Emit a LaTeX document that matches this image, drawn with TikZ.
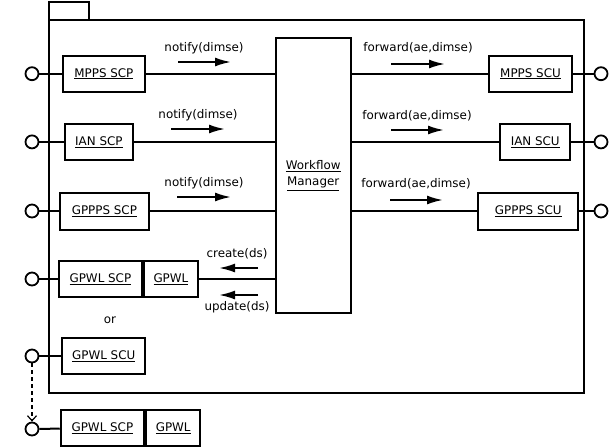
\documentclass[tikz,border=0pt]{standalone}
\usepackage{fontspec}
\setmainfont{DejaVu Sans}
\usetikzlibrary{arrows.meta}
\begin{document}
\begin{tikzpicture}[x=1pt,y=-1pt,
  every node/.style={font=\fontsize{11.9}{14}\selectfont, inner sep=0pt},
  comp/.style={draw, line width=2pt, minimum height=36pt},
  port/.style={draw, line width=1.8pt, circle, minimum size=13pt},
  wire/.style={line width=2pt},
  msg/.style={line width=2pt, -{Latex[length=16pt,width=9pt]}}]
\useasboundingbox (0,0) rectangle (609,447);

% package frame with its tab
\draw[line width=2pt] (49,20) rectangle (584,393);
\draw[line width=2pt] (49,20) -- (49,1.5) -- (89,1.5) -- (89,20);

% central component
\node[comp, minimum width=75pt, minimum height=275.5pt, align=center] (wm) at (313.2,175.3)
  {\underline{Workflow}\\[2.5pt]\underline{Manager}};

% left side components
\node[comp, minimum width=82.3pt] (mppsscp) at (103.9,73.7) {\underline{MPPS SCP}};
\node[comp, minimum width=68.3pt] (ianscp) at (98.9,141.9) {\underline{IAN SCP}};
\node[comp, minimum width=88.7pt, minimum height=37pt] (gpppsscp) at (104.4,211) {\underline{GPPPS SCP}};
\node[comp, minimum width=82.7pt] (gpwlscp) at (100.4,279) {\underline{GPWL SCP}};
\node[comp, minimum width=54.3pt, anchor=west] (gpwl) at (gpwlscp.east) {\underline{GPWL}};
\node (or) at (110,320) {or};
\node[comp, minimum width=83.3pt] (gpwlscu) at (103.7,356) {\underline{GPWL SCU}};
\node[comp, minimum width=83.3pt] (gpwlscpb) at (102.4,428) {\underline{GPWL SCP}};
\node[comp, minimum width=54.3pt, anchor=west] (gpwlb) at (gpwlscpb.east) {\underline{GPWL}};

% right side components
\node[comp, minimum width=83pt] (mppsscu) at (530.5,73.7) {\underline{MPPS SCU}};
\node[comp, minimum width=69.7pt] (ianscu) at (535.2,141.9) {\underline{IAN SCU}};
\node[comp, minimum width=100pt, minimum height=37pt] (gpppsscu) at (528.3,211) {\underline{GPPPS SCU}};

% ports
\node[port] (p1) at (32,73.7) {};
\node[port] (p2) at (32,141.9) {};
\node[port] (p3) at (32,211) {};
\node[port] (p4) at (32,279) {};
\node[port] (p5) at (32,356) {};
\node[port] (p6) at (32,429) {};
\node[port] (q1) at (601,73.7) {};
\node[port] (q2) at (601,141.9) {};
\node[port] (q3) at (601,211) {};

% port wires
\draw[wire] (p1) -- (mppsscp);
\draw[wire] (p2) -- (ianscp);
\draw[wire] (p3) -- (gpppsscp);
\draw[wire] (p4) -- (gpwlscp);
\draw[wire] (p5) -- (gpwlscu);
\draw[wire] (p6) -- (gpwlscpb);
\draw[wire] (mppsscu) -- (q1);
\draw[wire] (ianscu) -- (q2);
\draw[wire] (gpppsscu) -- (q3);

% links to the manager
\draw[wire] (mppsscp.east) -- (mppsscp.east -| wm.west);
\draw[wire] (ianscp.east) -- (ianscp.east -| wm.west);
\draw[wire] (gpppsscp.east) -- (gpppsscp.east -| wm.west);
\draw[wire] (gpwl.east) -- (gpwl.east -| wm.west);
\draw[wire] (mppsscu.west -| wm.east) -- (mppsscu.west);
\draw[wire] (ianscu.west -| wm.east) -- (ianscu.west);
\draw[wire] (gpppsscu.west -| wm.east) -- (gpppsscu.west);

% dependency between the two GPWL ports
\draw[line width=1.2pt, dashed, dash pattern=on 4pt off 3pt, -{Straight Barb[length=5pt,width=9pt,line width=1.2pt]}]
  (p5.south) -- (p6.north);

% messages
\node (m1) at (204,48) {notify(dimse)};
\coordinate (m1a) at (178,62); \coordinate (m1b) at (231,62);
\draw[msg] (m1a) -- (m1b);
\node (m2) at (198,115) {notify(dimse)};
\coordinate (m2a) at (171,129); \coordinate (m2b) at (225,129);
\draw[msg] (m2a) -- (m2b);
\node (m3) at (204,183) {notify(dimse)};
\coordinate (m3a) at (177,197); \coordinate (m3b) at (231,197);
\draw[msg] (m3a) -- (m3b);

\node (f1) at (418,48) {forward(ae,dimse)};
\coordinate (f1a) at (391,64); \coordinate (f1b) at (445,64);
\draw[msg] (f1a) -- (f1b);
\node (f2) at (417,116) {forward(ae,dimse)};
\coordinate (f2a) at (391,130); \coordinate (f2b) at (444,130);
\draw[msg] (f2a) -- (f2b);
\node (f3) at (416,184) {forward(ae,dimse)};
\coordinate (f3a) at (390,200); \coordinate (f3b) at (443,200);
\draw[msg] (f3a) -- (f3b);

\node (c1) at (237,253.5) {create(ds)};
\coordinate (c1a) at (258,268); \coordinate (c1b) at (219,268);
\draw[msg] (c1a) -- (c1b);
\node (u1) at (237,307.5) {update(ds)};
\coordinate (u1a) at (258,295); \coordinate (u1b) at (219,295);
\draw[msg] (u1a) -- (u1b);
\end{tikzpicture}
\end{document}
